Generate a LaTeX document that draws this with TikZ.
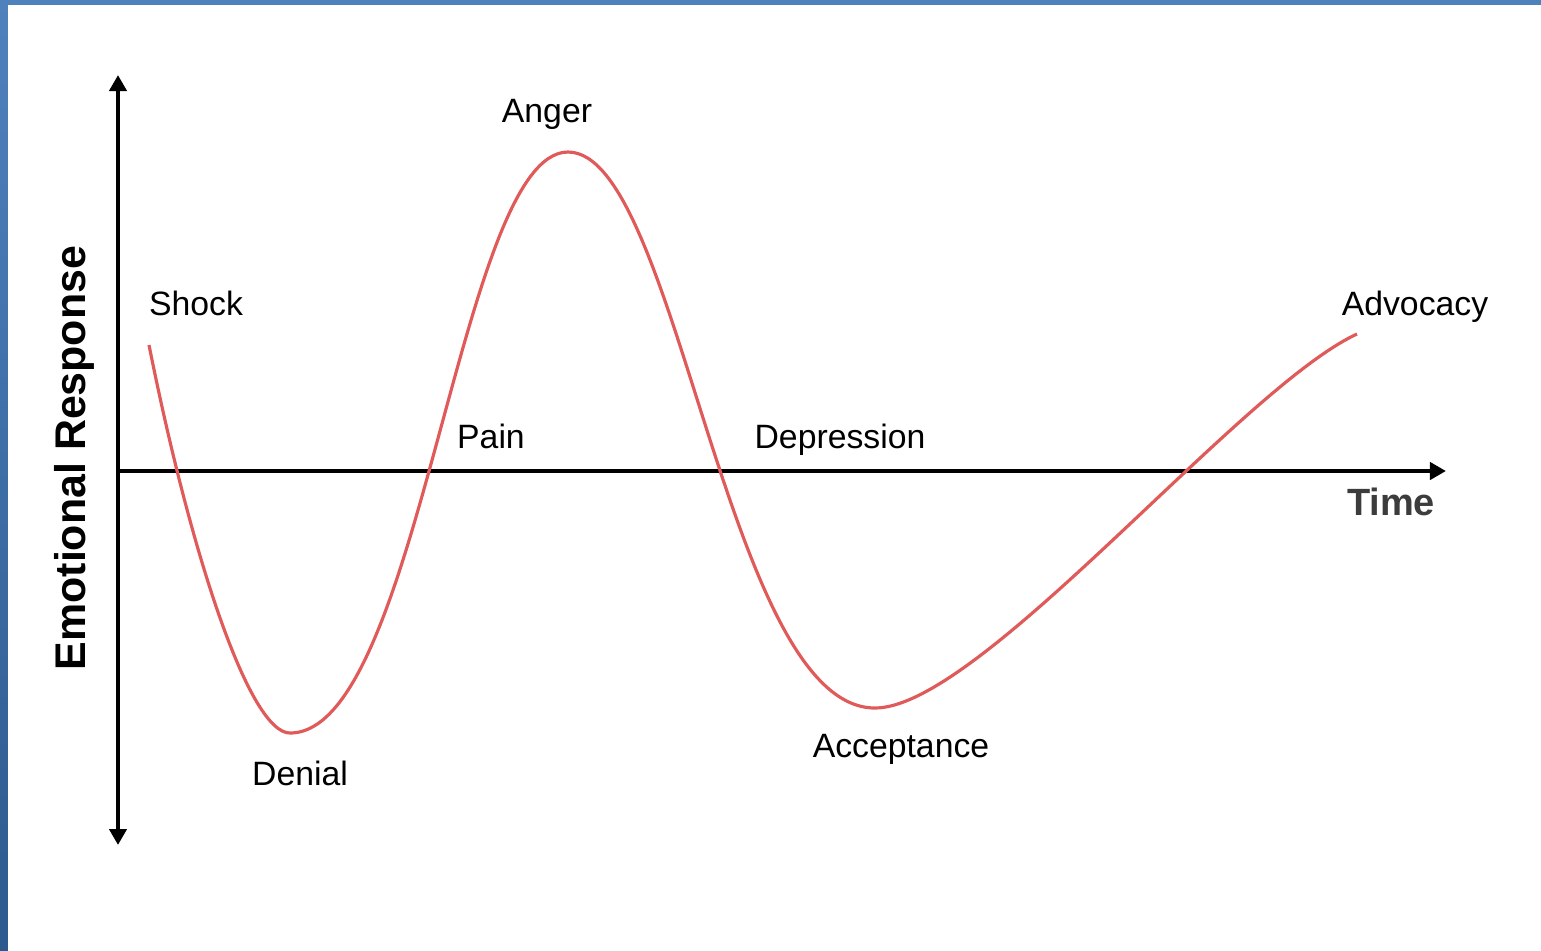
\documentclass[tikz,border=0pt]{standalone}
\usepackage{fontspec}
\setmainfont{Liberation Sans}
\usetikzlibrary{arrows.meta}
\definecolor{frameblue}{HTML}{4F81BD}
\definecolor{framedark}{HTML}{2D5A8E}
\definecolor{curvered}{HTML}{E05A5A}
\definecolor{timegray}{HTML}{3C3C3C}
\begin{document}
\begin{tikzpicture}[
        x=0.01cm, y=-0.01cm,
        axtip/.tip={Triangle[length=0.16cm, width=0.17cm]},
        axis/.style={draw, line width=1.2pt},
        stage/.style={font=\fontsize{9.6}{11}\selectfont, anchor=base, inner sep=0pt},
        axislabel/.style={font=\bfseries\fontsize{12.2}{14}\selectfont, anchor=base, inner sep=0pt},
        curve/.style={draw=curvered, line width=0.9pt},
    ]
    \useasboundingbox (0,0) rectangle (1541,950);
    % frame
    \fill[top color=frameblue, bottom color=framedark] (0,0) rectangle (8,950);
    \fill[frameblue] (0,0) rectangle (1541,5);

    % axes
    \coordinate (ytop) at (118,75);
    \coordinate (ybot) at (118,845);
    \coordinate (origin) at (118,471);
    \coordinate (xend) at (1446,471);
    \draw[axis, axtip-axtip] (ybot) -- (ytop);
    \draw[axis, -axtip] (origin) -- (xend);

    \node[axislabel, rotate=90](response) at (85,458){Emotional Response};
    \node[axislabel, font=\bfseries\fontsize{10.8}{13}\selectfont, text=timegray](time) at (1391,515){Time};

    % stages
    \coordinate (start) at (149,345);
    \coordinate (low1) at (290,733);
    \coordinate (peak) at (568,152);
    \coordinate (low2) at (875,708);
    \coordinate (end) at (1357,334);
    \draw[curve] (start)
        .. controls (192,560) and (250,733) .. (low1)
        .. controls (420,733) and (459,152) .. (peak)
        .. controls (678,152) and (726,708) .. (low2)
        .. controls (980,708) and (1240,388) .. (end);

    \node[stage](shock) at (196,315){Shock};
    \node[stage](denial) at (300,785){Denial};
    \node[stage](pain) at (491,448){Pain};
    \node[stage](anger) at (547,122){Anger};
    \node[stage](depression) at (840,448){Depression};
    \node[stage](acceptance) at (901,757){Acceptance};
    \node[stage](advocacy) at (1415,315){Advocacy};

\end{tikzpicture}
\end{document}
